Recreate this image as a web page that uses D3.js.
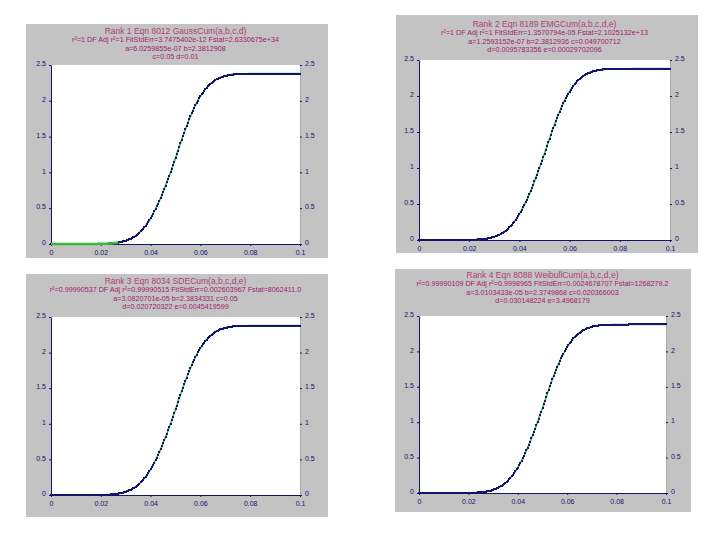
<!DOCTYPE html>
<html><head><meta charset="utf-8">
<script src="https://cdn.jsdelivr.net/npm/d3@7"></script>
<style>body{margin:0;background:#fff}svg{display:block}</style>
</head><body>
<svg id="c" width="720" height="540"></svg>
<script>
const xValues = [
0,0.0005,0.001,0.0015,0.002,0.0025,0.003,0.0035,0.004,0.0045,
0.005,0.0055,0.006,0.0065,0.007,0.0075,0.008,0.0085,0.009,0.0095,
0.01,0.0105,0.011,0.0115,0.012,0.0125,0.013,0.0135,0.014,0.0145,
0.015,0.0155,0.016,0.0165,0.017,0.0175,0.018,0.0185,0.019,0.0195,
0.02,0.0205,0.021,0.0215,0.022,0.0225,0.023,0.0235,0.024,0.0245,
0.025,0.0255,0.026,0.0265,0.027,0.0275,0.028,0.0285,0.029,0.0295,
0.03,0.0305,0.031,0.0315,0.032,0.0325,0.033,0.0335,0.034,0.0345,
0.035,0.0355,0.036,0.0365,0.037,0.0375,0.038,0.0385,0.039,0.0395,
0.04,0.0405,0.041,0.0415,0.042,0.0425,0.043,0.0435,0.044,0.0445,
0.045,0.0455,0.046,0.0465,0.047,0.0475,0.048,0.0485,0.049,0.0495,
0.05,0.0505,0.051,0.0515,0.052,0.0525,0.053,0.0535,0.054,0.0545,
0.055,0.0555,0.056,0.0565,0.057,0.0575,0.058,0.0585,0.059,0.0595,
0.06,0.0605,0.061,0.0615,0.062,0.0625,0.063,0.0635,0.064,0.0645,
0.065,0.0655,0.066,0.0665,0.067,0.0675,0.068,0.0685,0.069,0.0695,
0.07,0.0705,0.071,0.0715,0.072,0.0725,0.073,0.0735,0.074,0.0745,
0.075,0.0755,0.076,0.0765,0.077,0.0775,0.078,0.0785,0.079,0.0795,
0.08,0.0805,0.081,0.0815,0.082,0.0825,0.083,0.0835,0.084,0.0845,
0.085,0.0855,0.086,0.0865,0.087,0.0875,0.088,0.0885,0.089,0.0895,
0.09,0.0905,0.091,0.0915,0.092,0.0925,0.093,0.0935,0.094,0.0945,
0.095,0.0955,0.096,0.0965,0.097,0.0975,0.098,0.0985,0.099,0.0995,0.1];
const yValues = [
0,0,0,0,0,0,0,0,0,0,
0,0,0,0,0,0,0,0,0,0,
0,0,0,0,0,0,0,0,0,0,
0,0,0.001,0.001,0.001,0.001,0.001,0.001,0.002,0.002,
0.002,0.003,0.003,0.004,0.004,0.005,0.006,0.007,0.008,0.010,
0.011,0.013,0.015,0.018,0.020,0.023,0.027,0.031,0.035,0.040,
0.046,0.052,0.058,0.066,0.074,0.083,0.093,0.104,0.116,0.130,
0.144,0.159,0.176,0.194,0.213,0.234,0.256,0.279,0.305,0.332,
0.360,0.390,0.421,0.454,0.489,0.525,0.562,0.601,0.641,0.682,
0.726,0.770,0.815,0.861,0.908,0.955,1.003,1.052,1.101,1.150,
1.201,1.253,1.305,1.356,1.407,1.458,1.508,1.556,1.604,1.650,
1.695,1.739,1.782,1.823,1.862,1.900,1.936,1.970,2.002,2.033,
2.062,2.090,2.115,2.139,2.162,2.183,2.202,2.219,2.236,2.251,
2.265,2.277,2.289,2.299,2.308,2.317,2.325,2.331,2.337,2.343,
2.348,2.352,2.356,2.359,2.362,2.365,2.367,2.369,2.371,2.372,
2.373,2.374,2.375,2.376,2.376,2.377,2.378,2.378,2.378,2.379,
2.379,2.379,2.379,2.379,2.379,2.379,2.379,2.379,2.379,2.379,
2.38,2.38,2.38,2.38,2.38,2.38,2.38,2.38,2.38,2.38,
2.38,2.38,2.38,2.38,2.38,2.38,2.38,2.38,2.38,2.38,
2.38,2.38,2.38,2.38,2.38,2.38,2.38,2.38,2.38,2.38,2.38];
const xTicks = [0,0.02,0.04,0.06,0.08,0.1];
const xTickLabels = ["0","0.02","0.04","0.06","0.08","0.1"];
const yTicks = [0,0.5,1,1.5,2,2.5];
const yTickLabels = ["0","0.5","1","1.5","2","2.5"];
const titles1 = ["Rank 1  Eqn 8012  GaussCum(a,b,c,d)",
 "r²=1  DF Adj r²=1  FitStdErr=3.7475402e-12  Fstat=2.6330675e+34",
 "a=6.0259855e-07 b=2.3812908",
 "c=0.05 d=0.01"];
const titles2 = ["Rank 2  Eqn 8189  EMGCum(a,b,c,d,e)",
 "r²=1  DF Adj r²=1  FitStdErr=1.3570794e-05  Fstat=2.1025132e+13",
 "a=1.2593152e-07 b=2.3812936 c=0.049700712",
 "d=0.0095783356 e=0.00029702096"];
const titles3 = ["Rank 3  Eqn 8034  SDECum(a,b,c,d,e)",
 "r²=0.99990537  DF Adj r²=0.99990515  FitStdErr=0.002603967  Fstat=8062411.0",
 "a=3.0820701e-05 b=2.3834331 c=0.05",
 "d=0.020720322 e=0.0045419599"];
const titles4 = ["Rank 4  Eqn 8088  WeibullCum(a,b,c,d,e)",
 "r²=0.99990109  DF Adj r²=0.9998965  FitStdErr=0.0024678707  Fstat=1268279.2",
 "a=3.0103433e-05 b=2.3749868 c=0.020366003",
 "d=0.030148224 e=3.4968179"];

const panels = [
 {titles:titles1, box:[26,24,302,234], plot:[51,65,300,244], titleY:32, greenOnTopUntil:0.027},
 {titles:titles2, box:[396,15,302,238], plot:[419,60,670,240], titleY:25, greenOnTopUntil:-1},
 {titles:titles3, box:[26,274,302,243], plot:[51,317,300,495], titleY:282, greenOnTopUntil:-1},
 {titles:titles4, box:[395,269,296,243], plot:[419,316,666,493], titleY:276, greenOnTopUntil:-1}
];

const svg = d3.select("#c");
const navy = "#14146e";
const green = "#3cb83c";
const data = xValues.map((x,i)=>({x, y:yValues[i]}));

panels.forEach(p=>{
  const g = svg.append("g");
  g.append("rect").attr("x",p.box[0]).attr("y",p.box[1]).attr("width",p.box[2]).attr("height",p.box[3])
    .attr("fill","#c3c3c3");
  const [l,t,r,b] = p.plot;
  g.append("rect").attr("x",l).attr("y",t).attr("width",r-l).attr("height",b-t).attr("fill","#fff");
  const x = d3.scaleLinear().domain([0,0.1]).range([l,r]);
  const y = d3.scaleLinear().domain([0,2.5]).range([b,t]);
  const cx = (l+r)/2;
  p.titles.forEach((s,i)=>{
    g.append("text").attr("x",cx).attr("y",p.titleY+i*8.5).attr("text-anchor","middle")
      .attr("dominant-baseline","middle")
      .attr("font-family","Liberation Sans, Arial, sans-serif").attr("font-size", i===0?8.5:7.2)
      .attr("fill", i===0?"#b0407a":"#a3206e").text(s);
  });
  const fmtX = d => xTickLabels[xTicks.indexOf(d)];
  const fmtY = d => yTickLabels[yTicks.indexOf(d)];
  const axB = g.append("g").attr("transform",`translate(0,${b})`)
    .call(d3.axisBottom(x).tickValues(xTicks).tickFormat(fmtX).tickSize(2).tickSizeOuter(0));
  const axL = g.append("g").attr("transform",`translate(${l},0)`)
    .call(d3.axisLeft(y).tickValues(yTicks).tickFormat(fmtY).tickSize(2).tickSizeOuter(0));
  const axR = g.append("g").attr("transform",`translate(${r},0)`)
    .call(d3.axisRight(y).tickValues(yTicks).tickFormat(fmtY).tickSize(2).tickSizeOuter(0));
  [axB,axL,axR].forEach(a=>{
    a.selectAll("path,line").attr("stroke",navy).attr("stroke-width",1);
    a.selectAll("text").attr("fill",navy).attr("font-size",7)
      .attr("font-family","Liberation Sans, Arial, sans-serif");
  });
  axB.selectAll("text").attr("dy","0.9em");
  axL.selectAll("text").attr("dy","0.1em");
  axR.selectAll("text").attr("dy","0.1em");
  axR.select("path").attr("stroke","#aaa");

  const line = d3.line().x(d=>x(d.x)).y(d=>y(d.y));
  g.append("path").datum(data).attr("d",line).attr("fill","none")
    .attr("stroke",green).attr("stroke-width",1.6);
  g.selectAll("rect.pt").data(data).join("rect").attr("class","pt")
    .attr("x",d=>Math.round(x(d.x))-1).attr("y",d=>Math.round(y(d.y))-1).attr("width",2).attr("height",2)
    .attr("shape-rendering","crispEdges")
    .attr("fill",navy);
  if (p.greenOnTopUntil>0){
    g.append("path").datum(data.filter(d=>d.x<=p.greenOnTopUntil)).attr("d",line).attr("fill","none")
      .attr("stroke",green).attr("stroke-width",2.5);
  }
});
</script>
</body></html>
